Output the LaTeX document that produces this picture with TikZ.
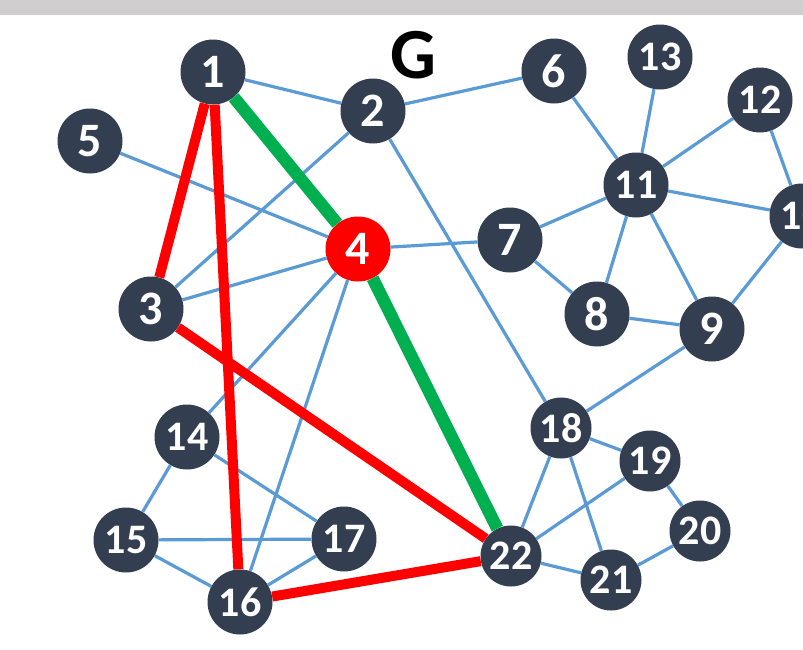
\documentclass[tikz,border=0pt]{standalone}
\usepackage{fontspec}
\setmainfont{Carlito}
\definecolor{nodefill}{HTML}{333F50}
\definecolor{edgeblue}{HTML}{5B9BD5}
\definecolor{topgray}{HTML}{D0CECF}
\definecolor{pathgreen}{HTML}{00B050}
\definecolor{pathred}{HTML}{FF0000}
\begin{document}
\begin{tikzpicture}[x=1pt,y=-1pt,
  vnode/.style={circle,fill=nodefill,text=white,inner sep=0pt,minimum size=65pt,font=\bfseries\fontsize{48}{48}\selectfont},
  vnodetwo/.style={vnode,font=\bfseries\fontsize{42}{42}\selectfont},
  vnodesmall/.style={vnodetwo,minimum size=61pt},
  hotnode/.style={vnode,fill=pathred},
  thin/.style={draw=edgeblue,line width=3.2pt},
  redpath/.style={draw=pathred,line width=10pt},
  greenpath/.style={draw=pathgreen,line width=12.5pt}]
\useasboundingbox (0,0) rectangle (803,649);
\fill[white] (0,0) rectangle (803,649);
\fill[topgray] (0,0) rectangle (803,15);
\node[font=\bfseries\fontsize{72}{72}\selectfont] (G) at (413,55) {G};
\node[vnode] (n1) at (213,72) {1};
\node[vnode] (n2) at (373,111) {2};
\node[vnode] (n3) at (151,309) {3};
\node[hotnode] (n4) at (358,249) {4};
\node[vnode] (n5) at (90,141) {5};
\node[vnode] (n6) at (554,71) {6};
\node[vnode] (n7) at (510,240) {7};
\node[vnode] (n8) at (597,314) {8};
\node[vnode] (n9) at (712,329) {9};
\node[vnodetwo] (n10) at (802,216) {10};
\node[vnodetwo] (n11) at (636,185) {11};
\node[vnodetwo] (n12) at (760,100) {12};
\node[vnodetwo] (n13) at (660,57) {13};
\node[vnodetwo] (n14) at (187,437) {14};
\node[vnodetwo] (n15) at (126,540) {15};
\node[vnodetwo] (n16) at (240,602) {16};
\node[vnodetwo] (n17) at (344,539) {17};
\node[vnodesmall] (n18) at (561,428) {18};
\node[vnodesmall] (n19) at (650,461) {19};
\node[vnodesmall] (n20) at (700,531) {20};
\node[vnodesmall] (n21) at (611,580) {21};
\node[vnodesmall] (n22) at (511,556) {22};
% thin edges
\draw[thin] (n1) -- (n2);
\draw[thin] (n2) -- (n6);
\draw[thin] (n2) -- (n3);
\draw[thin] (n2) -- (n18);
\draw[thin] (n5) -- (n4);
\draw[thin] (n3) -- (n4);
\draw[thin] (n4) -- (n7);
\draw[thin] (n4) -- (n14);
\draw[thin] (n4) -- (n16);
\draw[thin] (n6) -- (n11);
\draw[thin] (n13) -- (n11);
\draw[thin] (n12) -- (n11);
\draw[thin] (n11) -- (n10);
\draw[thin] (n12) -- (n10);
\draw[thin] (n11) -- (n7);
\draw[thin] (n11) -- (n8);
\draw[thin] (n11) -- (n9);
\draw[thin] (n7) -- (n8);
\draw[thin] (n8) -- (n9);
\draw[thin] (n9) -- (n10);
\draw[thin] (n9) -- (n18);
\draw[thin] (n18) -- (n22);
\draw[thin] (n18) -- (n19);
\draw[thin] (n18) -- (n21);
\draw[thin] (n19) -- (n22);
\draw[thin] (n19) -- (n20);
\draw[thin] (n20) -- (n21);
\draw[thin] (n22) -- (n21);
\draw[thin] (n14) -- (n15);
\draw[thin] (n14) -- (n17);
\draw[thin] (n15) -- (n17);
\draw[thin] (n15) -- (n16);
\draw[thin] (n16) -- (n17);
% highlighted paths
\draw[redpath] (n1) -- (n3);
\draw[redpath] (n1) -- (n16);
\draw[redpath] (n3) -- (n22);
\draw[redpath] (n16) -- (n22);
\draw[greenpath] (n1) -- (n4);
\draw[greenpath] (n4) -- (n22);
\end{tikzpicture}
\end{document}
